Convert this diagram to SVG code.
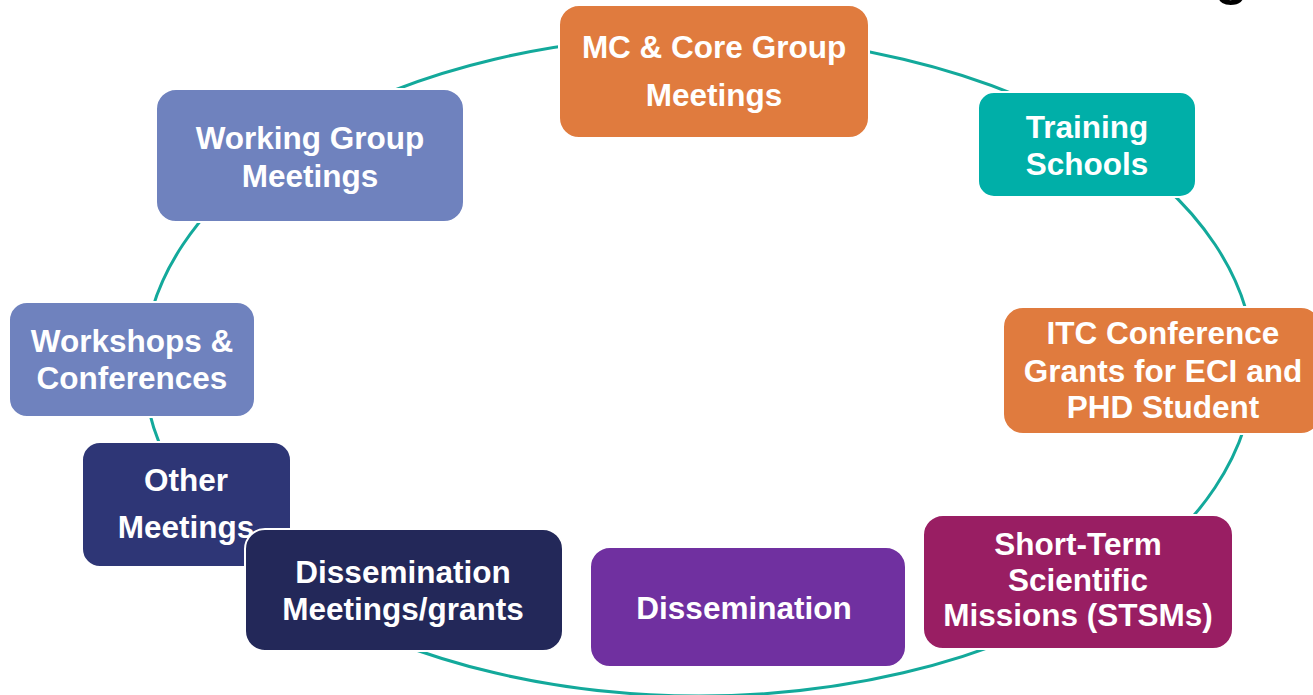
<svg xmlns="http://www.w3.org/2000/svg" width="1313" height="695" viewBox="0 0 1313 695">
  <style>
    .box { stroke: #ffffff; stroke-width: 2; }
    .lbl { font-family: "Liberation Sans", Arial, sans-serif; font-weight: bold; font-size: 31.5px; fill: #ffffff; text-anchor: middle; }
    .ring { fill: none; stroke: #13A99B; stroke-width: 3; }
    .orange { fill: #E07B3E; }
    .teal { fill: #00AFA8; }
    .peri { fill: #6F82BE; }
    .navy { fill: #2E3676; }
    .dnavy { fill: #232859; }
    .purple { fill: #7030A0; }
    .wine { fill: #991E63; }
  </style>
  <rect width="1313" height="695" fill="#ffffff"/>
  <text x="1215" y="-6" font-family="Liberation Sans, Arial, sans-serif" font-weight="bold" font-size="54" fill="#000000">g</text>
  <g id="connectors">
    <ellipse class="ring" cx="699" cy="366" rx="555" ry="330"/>
  </g>
  <g id="node-mc">
    <rect class="box orange" x="559" y="5" width="310" height="133" rx="20"/>
    <text class="lbl" x="714" y="58">MC &amp; Core Group</text>
    <text class="lbl" x="714" y="106">Meetings</text>
  </g>
  <g id="node-training">
    <rect class="box teal" x="978" y="92" width="218" height="105" rx="16"/>
    <text class="lbl" x="1087" y="138">Training</text>
    <text class="lbl" x="1087" y="175">Schools</text>
  </g>
  <g id="node-itc">
    <rect class="box orange" x="1003" y="307" width="318" height="127" rx="20"/>
    <text class="lbl" x="1163" y="344">ITC Conference</text>
    <text class="lbl" x="1163" y="382">Grants for ECI and</text>
    <text class="lbl" x="1163" y="418">PHD Student</text>
  </g>
  <g id="node-stsm">
    <rect class="box wine" x="923" y="515" width="310" height="134" rx="20"/>
    <text class="lbl" x="1078" y="555">Short-Term</text>
    <text class="lbl" x="1078" y="591">Scientific</text>
    <text class="lbl" x="1078" y="626">Missions (STSMs)</text>
  </g>
  <g id="node-dissemination">
    <rect class="box purple" x="590" y="547" width="316" height="120" rx="20"/>
    <text class="lbl" x="744" y="619">Dissemination</text>
  </g>
  <g id="node-working">
    <rect class="box peri" x="156" y="89" width="308" height="133" rx="20"/>
    <text class="lbl" x="310" y="149">Working Group</text>
    <text class="lbl" x="310" y="187">Meetings</text>
  </g>
  <g id="node-workshops">
    <rect class="box peri" x="9" y="302" width="246" height="115" rx="18"/>
    <text class="lbl" x="132" y="352">Workshops &amp;</text>
    <text class="lbl" x="132" y="389">Conferences</text>
  </g>
  <g id="node-other">
    <rect class="box navy" x="82" y="442" width="209" height="125" rx="18"/>
    <text class="lbl" x="186" y="491">Other</text>
    <text class="lbl" x="186" y="538">Meetings</text>
  </g>
  <g id="node-dissem-meetings">
    <rect class="box dnavy" x="245" y="529" width="318" height="122" rx="20"/>
    <text class="lbl" x="403" y="583">Dissemination</text>
    <text class="lbl" x="403" y="620">Meetings/grants</text>
  </g>
</svg>
